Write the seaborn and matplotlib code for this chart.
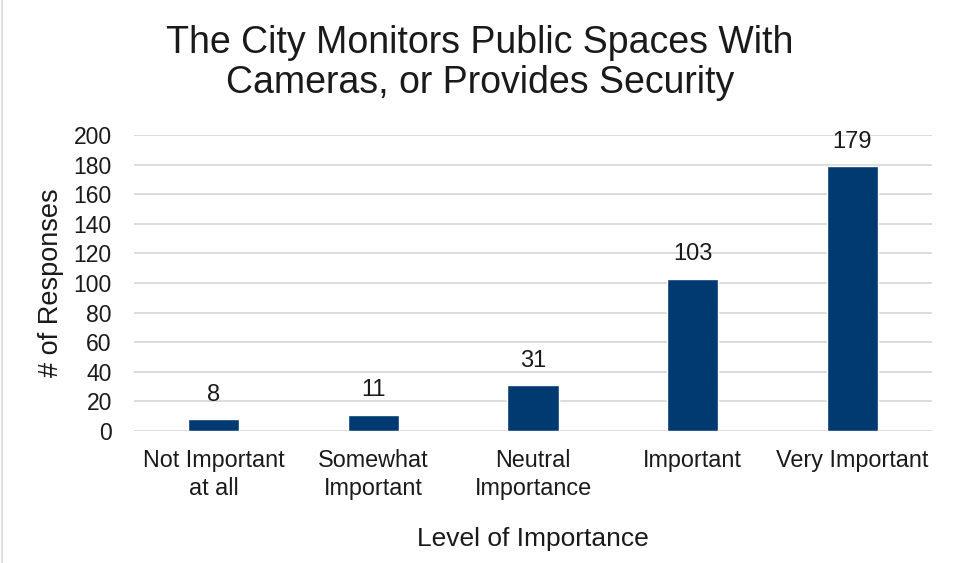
import matplotlib
matplotlib.use("Agg")
import matplotlib.pyplot as plt
import seaborn as sns
import pandas as pd

categories = ["Not Important\nat all", "Somewhat\nImportant", "Neutral\nImportance", "Important", "Very Important"]
values = [8, 11, 31, 103, 179]
yticks = [0, 20, 40, 60, 80, 100, 120, 140, 160, 180, 200]

sns.set_theme(style="white")
plt.rcParams['font.family'] = ['Liberation Sans', 'DejaVu Sans']

df = pd.DataFrame({"cat": categories, "val": values})

fig = plt.figure(figsize=(9.6, 5.63), dpi=100)
ax = fig.add_axes([134/960, 1-431/563, (932-134)/960, (431-135)/563])
sns.barplot(data=df, x="cat", y="val", color="#003A70", width=0.32, ax=ax, saturation=1)

ax.set_ylim(0, 200)
ax.set_yticks(yticks)
ax.set_yticklabels([str(t) for t in yticks], fontsize=16.5, color="#1a1a1a")
ax.tick_params(axis='x', labelsize=16.8, colors="#1a1a1a", length=0, pad=13)
ax.tick_params(axis='y', length=0, pad=16)
for lbl in ax.get_xticklabels():
    lbl.set_linespacing(1.25)
ax.yaxis.grid(True, color="#d9d9d9", linewidth=1.3)
ax.set_axisbelow(True)
for s in ax.spines.values():
    s.set_visible(False)

for i, v in enumerate(values):
    ax.text(i, v + 16.5, str(v), ha="center", va="center", fontsize=17, color="#1a1a1a")

ax.set_xlabel("Level of Importance", fontsize=19, color="#1a1a1a", labelpad=20)
ax.set_ylabel("# of Responses", fontsize=19.5, color="#1a1a1a", labelpad=7)

fig.text(0.5, 1-63/563, "The City Monitors Public Spaces With\nCameras, or Provides Security",
         ha="center", va="center", fontsize=27, color="#1a1a1a", linespacing=1.12)

fig.add_artist(plt.Line2D([1.5/960, 1.5/960], [0, 1], color="#d9d9d9", linewidth=1.2))

fig.savefig("out.png", dpi=100, facecolor="white")
